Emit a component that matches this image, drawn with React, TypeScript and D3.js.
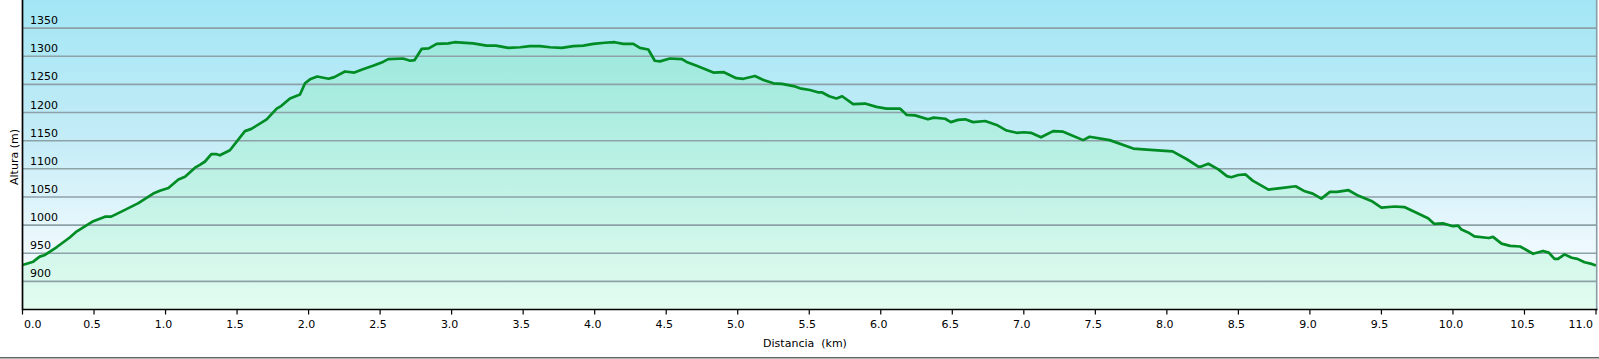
import React from 'react';
import * as d3 from 'd3';

// Elevation profile samples (km, m)
const distanceKm = [
  0.0, 0.075, 0.12, 0.157, 0.24, 0.33, 0.38, 0.495, 0.577, 0.62, 0.716, 0.81, 0.914, 0.96, 1.02, 1.09, 1.136,
  1.206, 1.24, 1.276, 1.32, 1.357, 1.38, 1.45, 1.555, 1.6, 1.707, 1.777, 1.81, 1.87, 1.94, 1.975, 2.01, 2.06,
  2.14, 2.18, 2.254, 2.32, 2.38, 2.45, 2.52, 2.557, 2.66, 2.71, 2.74, 2.79, 2.84, 2.895, 2.977, 3.02, 3.15,
  3.245, 3.31, 3.396, 3.48, 3.547, 3.617, 3.687, 3.77, 3.85, 3.92, 3.99, 4.07, 4.14, 4.2, 4.27, 4.316, 4.375,
  4.42, 4.456, 4.526, 4.61, 4.643, 4.713, 4.83, 4.9, 4.99, 5.04, 5.12, 5.18, 5.25, 5.31, 5.39, 5.435, 5.505,
  5.56, 5.587, 5.64, 5.69, 5.73, 5.807, 5.89, 5.97, 6.04, 6.134, 6.18, 6.24, 6.33, 6.37, 6.45, 6.49, 6.54,
  6.59, 6.646, 6.73, 6.81, 6.88, 6.95, 7.0, 7.05, 7.12, 7.205, 7.275, 7.415, 7.46, 7.6, 7.765, 7.86, 8.04,
  8.14, 8.22, 8.24, 8.29, 8.36, 8.42, 8.45, 8.5, 8.55, 8.6, 8.71, 8.81, 8.9, 8.965, 9.02, 9.08, 9.14, 9.19,
  9.27, 9.34, 9.43, 9.5, 9.594, 9.66, 9.745, 9.826, 9.87, 9.93, 10.0, 10.036, 10.06, 10.106, 10.15, 10.25,
  10.28, 10.34, 10.4, 10.47, 10.56, 10.63, 10.67, 10.71, 10.735, 10.78, 10.83, 10.87, 10.92, 10.97, 11.0,
];

const altitudeM = [
  929, 935, 944, 947, 961, 978, 989, 1007, 1015, 1015, 1027, 1039, 1056, 1061, 1066, 1081, 1086,
  1102, 1107, 1113, 1126, 1126, 1124, 1133, 1167, 1171, 1188, 1207, 1212, 1225, 1232, 1252, 1259, 1264,
  1260, 1263, 1273, 1271, 1277, 1283, 1290, 1295, 1296, 1292, 1293, 1313, 1314, 1322, 1323, 1325, 1323,
  1319, 1319, 1315, 1316, 1318, 1318, 1316, 1315, 1318, 1319, 1322, 1324, 1325, 1322, 1322, 1315, 1312,
  1292, 1291, 1296, 1295, 1290, 1283, 1271, 1272, 1261, 1260, 1265, 1258, 1252, 1251, 1247, 1243, 1240,
  1236, 1236, 1229, 1225, 1229, 1215, 1216, 1210, 1207, 1207, 1196, 1195, 1188, 1191, 1189, 1183, 1187,
  1188, 1183, 1185, 1178, 1168, 1164, 1165, 1164, 1156, 1167, 1166, 1151, 1157, 1151, 1136, 1134, 1131,
  1117, 1104, 1104, 1109, 1099, 1087, 1085, 1089, 1090, 1079, 1063, 1066, 1069, 1060, 1056, 1047, 1059, 1059,
  1062, 1052, 1043, 1031, 1033, 1032, 1022, 1012, 1002, 1003, 998, 999, 992, 987, 980, 977,
  979, 967, 963, 962, 949, 954, 951, 940, 940, 948, 942, 940, 934, 931, 928,
];

const yTicks = [900, 950, 1000, 1050, 1100, 1150, 1200, 1250, 1300, 1350];
const xTicks = [0, 0.5, 1, 1.5, 2, 2.5, 3, 3.5, 4, 4.5, 5, 5.5, 6, 6.5, 7, 7.5, 8, 8.5, 9, 9.5, 10, 10.5, 11];

const W = 1599;
const H = 359;
const plot = { left: 22.5, right: 1596, top: 0, bottom: 309.5 };
const font = '"DejaVu Sans", Verdana, sans-serif';

export default function App() {
  const points = distanceKm.map((d, i) => ({ d, a: altitudeM[i] }));

  const x = d3.scaleLinear().domain([0, 11]).range([plot.left, plot.right]);
  const y = d3.scaleLinear().domain([850, 1400]).range([plot.bottom, plot.top]);

  const line = d3
    .line<{ d: number; a: number }>()
    .x((p) => x(p.d))
    .y((p) => y(p.a));
  const area = d3
    .area<{ d: number; a: number }>()
    .x((p) => x(p.d))
    .y0(plot.bottom)
    .y1((p) => y(p.a));

  return (
    <svg
      width={W}
      height={H}
      style={{ position: 'absolute', left: 0, top: 0, background: '#fff' }}
      fontFamily={font}
    >
      <defs>
        <linearGradient id="bg" gradientUnits="userSpaceOnUse" x1="0" y1="0" x2="0" y2={plot.bottom}>
          <stop offset="0" stopColor="#a2e6f5" />
          <stop offset="0.45" stopColor="#c4ecf7" />
          <stop offset="0.8" stopColor="#eef9fd" />
          <stop offset="1" stopColor="#f6fcff" />
        </linearGradient>
        <linearGradient id="fill" gradientUnits="userSpaceOnUse" x1="0" y1="40" x2="0" y2={plot.bottom}>
          <stop offset="0" stopColor="#9ce8dd" />
          <stop offset="0.55" stopColor="#c0f2e5" />
          <stop offset="1" stopColor="#e3fcf0" />
        </linearGradient>
      </defs>

      <rect x={plot.left} y={plot.top} width={plot.right - plot.left} height={plot.bottom - plot.top} fill="url(#bg)" />
      <path d={area(points) ?? ''} fill="url(#fill)" />

      {/* grid lines */}
      {yTicks.map((t) => (
        <line key={t} x1={plot.left} x2={plot.right} y1={y(t)} y2={y(t)} stroke="#8da1a8" strokeWidth={1.6} />
      ))}

      <path d={line(points) ?? ''} fill="none" stroke="#008c25" strokeWidth={2.7} strokeLinejoin="round" />

      {/* y tick labels inside plot */}
      {yTicks.map((t) => (
        <text key={t} x={30} y={y(t) - 4} fontSize={11} fill="#000">
          {t}
        </text>
      ))}

      {/* axes */}
      <line x1={plot.right + 0.7} x2={plot.right + 0.7} y1={0} y2={plot.bottom} stroke="#8a9ca3" strokeWidth={1.6} />
      <line x1={plot.left} x2={plot.left} y1={0} y2={plot.bottom + 0.8} stroke="#000" strokeWidth={1.7} />
      <line x1={plot.left} x2={plot.right + 1.5} y1={plot.bottom} y2={plot.bottom} stroke="#000" strokeWidth={1.7} />

      {xTicks.map((t, i) => {
        const px = x(t);
        const anchor = i === 0 ? 'start' : i === xTicks.length - 1 ? 'end' : 'middle';
        const tx = i === 0 ? px + 1.5 : i === xTicks.length - 1 ? px - 3 : px - 2;
        return (
          <g key={t}>
            <line x1={px} x2={px} y1={plot.bottom} y2={plot.bottom + 5} stroke="#000" strokeWidth={1.2} />
            <text x={tx} y={327.5} fontSize={11} textAnchor={anchor} fill="#000">
              {t.toFixed(1)}
            </text>
          </g>
        );
      })}

      <text x={805} y={346.5} fontSize={11} textAnchor="middle" fill="#000" style={{ whiteSpace: 'pre' }}>
        {'Distancia  (km)'}
      </text>
      <text
        transform={`translate(17.5,157) rotate(-90)`}
        fontSize={11}
        textAnchor="middle"
        fill="#000"
      >
        Altura (m)
      </text>

      <line x1={0} x2={W} y1={357.8} y2={357.8} stroke="#666" strokeWidth={1.5} />
    </svg>
  );
}
